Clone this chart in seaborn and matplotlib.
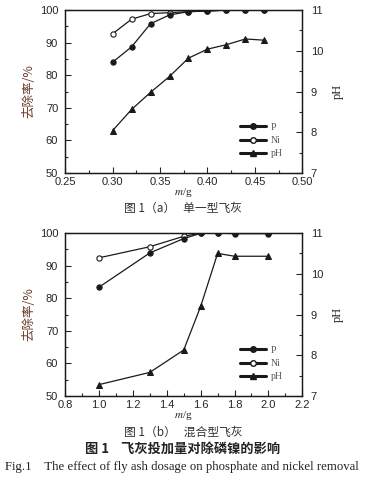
import numpy as np
import pandas as pd
import seaborn as sns
import matplotlib.pyplot as plt
from matplotlib.lines import Line2D
from matplotlib.ticker import MultipleLocator

# data (a) single fly ash
dose_a = [0.30, 0.32, 0.34, 0.36, 0.38, 0.40, 0.42, 0.44, 0.46]
p_a = [84.0, 88.7, 95.8, 98.5, 99.5, 99.7, 100.0, 100.0, 100.0]
ni_a = [92.7, 97.2, 98.9, 99.2, 99.5, 99.7, 100.0, 100.0, 100.0]
ph_a = [8.04, 8.56, 8.98, 9.37, 9.82, 10.04, 10.15, 10.29, 10.26]

# data (b) mixed fly ash
dose_b = [1.0, 1.3, 1.5, 1.6, 1.7, 1.8, 2.0]
p_b = [83.4, 93.9, 98.3, 99.9, 100.0, 99.8, 99.8]
ni_b = [92.4, 95.8, 99.0, 100.0, 100.0, 100.0, 100.0]
ph_b = [7.28, 7.58, 8.13, 9.2, 10.5, 10.43, 10.43]

legend_labels = ['P', 'Ni', 'pH']

sns.set_theme(style='ticks')
plt.rcParams['font.family'] = ['Liberation Sans', 'DejaVu Sans']
plt.rcParams['mathtext.fontset'] = 'stix'

cjk = ['Noto Sans CJK SC', 'DejaVu Sans']
serif = ['Liberation Serif', 'DejaVu Serif']

fig = plt.figure(figsize=(3.66, 4.78), dpi=100)


def draw_panel(rect, x, p, ni, ph, xlim, xmaj, xmin):
    ax = fig.add_axes(rect)
    ax2 = ax.twinx()
    sns.lineplot(x=x, y=ni, ax=ax, color='k', lw=0.9, marker='o', markersize=3.8,
                 markerfacecolor='white', markeredgecolor='k', markeredgewidth=0.8)
    sns.lineplot(x=x, y=p, ax=ax, color='k', lw=0.9, marker='o', markersize=3.8,
                 markerfacecolor='k', markeredgecolor='k')
    sns.lineplot(x=x, y=ph, ax=ax2, color='k', lw=0.9, marker='^', markersize=5,
                 markerfacecolor='k', markeredgecolor='k')
    ax.set_xlim(*xlim)
    ax.set_ylim(50, 100)
    ax2.set_ylim(7, 11)
    ax.xaxis.set_major_locator(MultipleLocator(xmaj))
    ax.xaxis.set_minor_locator(MultipleLocator(xmin))
    ax.yaxis.set_major_locator(MultipleLocator(10))
    ax.yaxis.set_minor_locator(MultipleLocator(5))
    ax2.yaxis.set_major_locator(MultipleLocator(1))
    ax2.yaxis.set_minor_locator(MultipleLocator(0.5))
    for a in (ax, ax2):
        a.tick_params(which='major', direction='in', length=4, width=0.8, labelsize=8, pad=3)
        a.tick_params(which='minor', direction='in', length=2.5, width=0.8)
        for s in a.spines.values():
            s.set_linewidth(0.9)
            s.set_color('k')
    ax2.tick_params(axis='y', pad=6)
    ax.tick_params(axis='y', pad=5)
    ax.set_xticklabels([f'{v:.2f}' if xmaj < 0.1 else f'{v:.1f}' for v in ax.get_xticks()])
    ax.set_xlim(*xlim)
    ax.set_xlabel('$m$/g', fontsize=8, labelpad=-1, family=serif)
    ax.set_ylabel('去除率/%', fontsize=9, color='#6b3b2b', family=cjk, labelpad=3)
    ax2.set_ylabel('pH', fontsize=9, family=serif, labelpad=6, rotation=90)
    handles = [
        Line2D([], [], color='k', lw=2.2, marker='o', markersize=4, mfc='k'),
        Line2D([], [], color='k', lw=2.2, marker='o', markersize=4, mfc='white'),
        Line2D([], [], color='k', lw=2.2, marker='^', markersize=5, mfc='k'),
    ]
    leg = ax2.legend(handles, legend_labels, loc='center left', bbox_to_anchor=(0.7, 0.2),
                     frameon=False, handlelength=2.7, handletextpad=0.5,
                     labelspacing=0.45, prop={'family': serif, 'size': 7})
    for t in leg.get_texts():
        t.set_color('#555555')
    return ax, ax2


draw_panel([0.178, 0.638, 0.648, 0.341], dose_a, p_a, ni_a, ph_a, (0.25, 0.50), 0.05, 0.025)
draw_panel([0.178, 0.1715, 0.648, 0.341], dose_b, p_b, ni_b, ph_b, (0.8, 2.2), 0.2, 0.1)

fig.text(0.5, 1 - 208 / 478, '图 1（a）   单一型飞灰', ha='center', va='center',
         fontsize=8.5, family=cjk, color='#333333')
fig.text(0.5, 1 - 432 / 478, '图 1（b）   混合型飞灰', ha='center', va='center',
         fontsize=8.5, family=cjk, color='#333333')
fig.text(0.5, 1 - 449 / 478, '图 1    飞灰投加量对除磷镍的影响', ha='center', va='center',
         fontsize=9.5, family=cjk, fontweight='bold', color='#222222')
fig.text(0.497, 1 - 467 / 478, 'Fig.1    The effect of fly ash dosage on phosphate and nickel removal',
         ha='center', va='center', fontsize=9.2, family=serif, color='#222222')

fig.savefig('out.png', dpi=100)
